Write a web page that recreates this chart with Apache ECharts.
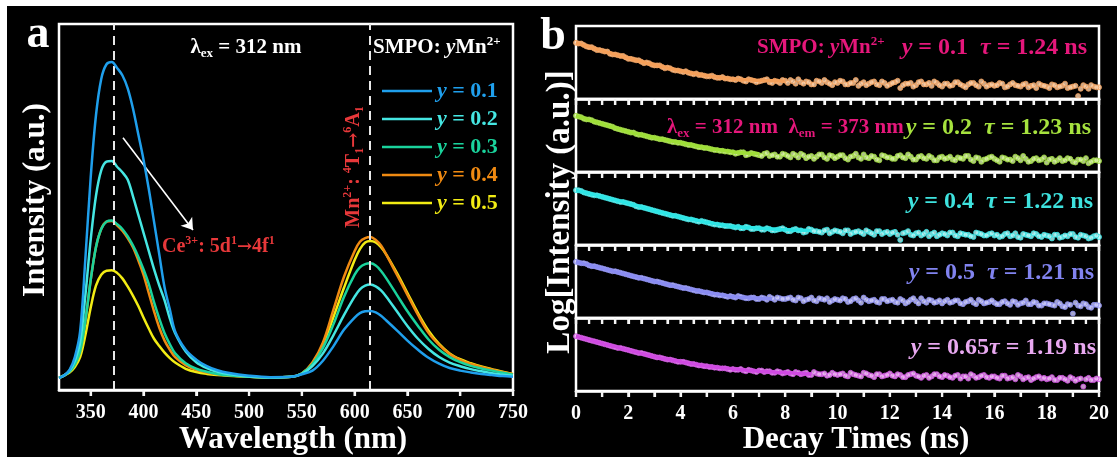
<!DOCTYPE html>
<html><head><meta charset="utf-8">
<script src="https://cdn.jsdelivr.net/npm/echarts@6/dist/echarts.min.js"></script>
<style>
html,body{margin:0;padding:0;background:#fff;width:1117px;height:461px;overflow:hidden}
#bg{position:absolute;left:7px;top:6px;width:1110px;height:451px;background:#000}
#chart{position:absolute;left:0;top:0;width:1117px;height:461px}
</style></head><body><div id="bg"></div><div id="chart"></div>
<script>
// ---------- Panel a : emission spectra ----------
const wavelength = [320,325,330,335,340,345,350,355,360,365,370,375,380,385,390,395,400,405,410,415,420,425,430,440,450,460,470,480,500,520,540,550,560,570,580,590,600,605,610,615,620,625,630,640,650,660,670,680,690,700,710,720,730,740,750];
const wlTicks = [350,400,450,500,550,600,650,700,750];
const seriesNames = ['y = 0.1','y = 0.2','y = 0.3','y = 0.4','y = 0.5'];
const spec01 = [3.3,4.0,5.5,9,16,36,58,75,85,89,89.6,88,86,82.5,77,70,63,55,46,37,28,22,16,11,8.3,6.5,5.4,4.7,3.9,3.5,3.6,4.3,5.3,8,12,16.5,19.8,21,21.5,21.6,21.2,20.3,19,16.3,13.5,11,8.8,7.2,6,5.3,4.8,4.4,4.1,3.8,3.6];
const spec02 = [3.3,4.0,5.3,8,13,26,41,53,60,62.4,62.6,61,59.5,57.5,53,48,43,38,33,28.5,24.5,19.5,15.5,10.5,7.6,6,5,4.4,3.7,3.4,3.6,4.4,6.5,10,15,20.5,25.5,27.5,28.5,28.8,28.3,27.2,25.5,21.5,17.5,14,11.2,9,7.5,6.5,5.7,5.1,4.6,4.2,3.9];
const spec03 = [3.3,4.0,5,7,10.5,19,30,39,44,46,46.3,45.3,44,42,39.5,36.5,33,29,24,19.5,15.5,12.5,10,7.3,5.8,5,4.4,4,3.6,3.4,3.6,4.5,7,11.5,18,25.5,31.5,33.5,34.4,34.6,34,32.5,30.5,26,21.5,17.5,13.8,11,9,7.6,6.6,5.9,5.3,4.7,4.2];
const spec04 = [3.3,4.0,5,7,10.5,19,30,39,44,46,46.2,45,43.5,41.5,39,35.5,31.5,26.5,21.5,17,13.5,11,9,6.8,5.5,4.8,4.3,4,3.6,3.4,3.6,4.5,7.5,13,22,31,38,40.5,41.5,41.8,41,39.5,37,31.5,26,20.5,15.6,12.3,9.8,8.2,7.1,6.3,5.6,4.9,4.3];
const spec05 = [3.3,4.0,4.8,6.3,9,15,22.5,28.5,31.5,32.6,32.7,32,30.5,28.3,25.8,23,19.8,16.8,14,12,10.2,8.7,7.5,5.8,4.9,4.4,4.1,3.9,3.6,3.4,3.6,4.5,7.2,12.5,20,28,35.5,38.5,40.3,40.7,40.3,39,37,32,26.5,21,16.2,12.6,10,8.4,7.3,6.4,5.7,5,4.4];
const specColors = ['#1f9fec','#45e6e2','#1ad39c','#f08a12','#f2ec14'];
const guideWl = [372, 614];

// ---------- Panel b : decay curves ----------
const decayTicksTop = [0,0.5,1,1.5,2,2.5,3,3.5,4,4.5,5,5.5,6,6.5,7,7.5,8,8.5,9,9.5,10,10.5,11,11.5,12,12.5,13,13.5,14,14.5,15,15.5,16,16.5,17,17.5,18,18.5,19,19.5,20];
const decayTicksBottom = [0,1,2,3,4,5,6,7,8,9,10,11,12,13,14,15,16,17,18,19,20];
const decayTime = [0,0.2,0.4,0.6,0.8,1,1.2,1.4,1.6,1.8,2,2.2,2.4,2.6,2.8,3,3.2,3.4,3.6,3.8,4,4.2,4.4,4.6,4.8,5,5.2,5.4,5.6,5.8,6,6.2,6.4,6.6,6.8,7,7.2,7.4,7.6,7.8,8,8.2,8.4,8.6,8.8,9,9.2,9.4,9.6,9.8,10,10.2,10.4,10.6,10.8,11,11.2,11.4,11.6,11.8,12,12.2,12.4,12.6,12.8,13,13.2,13.4,13.6,13.8,14,14.2,14.4,14.6,14.8,15,15.2,15.4,15.6,15.8,16,16.2,16.4,16.6,16.8,17,17.2,17.4,17.6,17.8,18,18.2,18.4,18.6,18.8,19,19.2,19.4,19.6,19.8,20];
const decayTimeB = [0.1,0.3,0.5,0.7,0.9,1.1,1.3,1.5,1.7,1.9,2.1,2.3,2.5,2.7,2.9,3.1,3.3,3.5,3.7,3.9,4.1,4.3,4.5,4.7,4.9,5.1,5.3,5.5,5.7,5.9,6.1,6.3,6.5,6.7,6.9,7.1,7.3,7.5,7.7,7.9,8.1,8.3,8.5,8.7,8.9,9.1,9.3,9.5,9.7,9.9,10.1,10.3,10.5,10.7,10.9,11.1,11.3,11.5,11.7,11.9,12.1,12.3,12.5,12.7,12.9,13.1,13.3,13.5,13.7,13.9,14.1,14.3,14.5,14.7,14.9,15.1,15.3,15.5,15.7,15.9,16.1,16.3,16.5,16.7,16.9,17.1,17.3,17.5,17.7,17.9,18.1,18.3,18.5,18.7,18.9,19.1,19.3,19.5,19.7,19.9];
const decay1 = [77,76,72,71,67,66,65,61,60,59, 55,54,53,49,49,46,46,42,42,39, 38,38,35,35,33,31,32,29,30,28, 27,28,25,27,25,24,26,23,25,22, 25,26,21,23,24,20,25,22,23,19, 22,24,20,22,18,23,21,24,19,22, 20,23,15,21,22,19,24,20,18,22, 17,21,19,23,18,20,22,17,21,19, 18,22,16,20,19,17,21,18,15,19, 17,20,16,18,15,17,4,19,14,17, 16];
const decay1B = [76,74,71,69,67,65,62,61,59,57, 55,53,51,50,47,46,44,43,40,39, 37,36,34,33,32,31,30,29,28,27, 26,27,24,26,23,25,27,22,24,26, 22,24,27,21,23,20,24,26,21,23, 25,20,22,26,21,19,23,20,24,18, 22,25,19,21,17,23,20,22,24,19, 21,18,23,20,16,22,19,24,17,20, 19,21,17,22,18,20,16,19,21,18, 15,19,17,21,16,18,14,17,19,16];
const decay2 = [77,75,72,71,68,66,64,62,59,57, 55,54,51,50,48,47,45,44,42,41, 40,38,37,35,34,33,31,30,29,28, 27,26,27,24,25,23,25,22,24,21, 24,20,23,25,19,22,21,24,18,22, 21,23,17,22,20,24,19,21,16,22, 20,18,23,19,21,17,22,18,20,16, 21,19,17,20,18,22,15,19,17,20, 18,14,19,17,21,16,18,15,19,17, 13,18,16,15,19,14,17,15,12,16, 15];
const decay2B = [76,73,72,69,67,65,63,60,58,56, 54,52,51,49,47,46,45,43,41,40, 39,37,36,34,33,32,30,29,28,27, 25,27,23,26,24,22,26,23,21,25, 22,25,20,23,21,18,24,20,23,19, 23,19,21,25,18,20,22,17,23,20, 18,22,20,24,17,21,19,22,16,20, 18,21,16,19,22,17,20,14,18,21, 16,20,17,15,19,22,14,18,16,20, 17,14,19,16,18,13,17,19,14,16];
const decay3 = [75,74,71,69,68,66,64,62,60,59, 57,55,52,51,49,47,45,43,41,40, 38,36,35,33,33,31,29,28,27,26, 25,25,23,24,22,23,21,22,20,22, 21,19,22,20,18,21,19,17,21,18, 19,16,20,17,19,15,18,14,19,17, 15,18,7,17,14,16,13,18,15,12, 16,13,17,12,15,14,11,16,13,15, 13,11,15,12,16,10,14,12,15,11, 13,9,14,11,12,15,10,13,9,12, 11];
const decay3B = [75,72,70,68,67,65,63,61,59,58, 56,53,52,50,48,46,44,42,40,39, 37,35,34,32,32,30,28,27,26,26, 24,23,25,22,23,21,23,20,21,23, 19,21,20,17,22,19,18,20,16,20, 18,20,15,18,17,20,16,19,15,18, 17,14,16,19,13,17,15,12,17,14, 15,17,13,16,14,12,17,15,13,16, 14,12,16,13,11,15,13,16,12,14, 12,14,10,13,15,11,14,12,10,13];
const decay4 = [77,75,74,71,70,68,66,64,63,61, 59,57,55,54,52,50,49,47,45,44, 42,41,39,37,36,35,33,32,31,29, 29,30,28,27,28,26,27,29,25,27, 26,28,24,27,25,28,23,26,27,24, 25,27,22,26,24,28,23,25,21,26, 24,22,26,20,25,23,27,21,24,22, 20,25,22,24,19,23,21,25,20,22, 21,19,23,18,22,20,24,19,21,17, 20,18,22,16,19,6,17,20,15,18, 17];
const decay4B = [76,75,72,71,69,67,65,64,62,60, 58,56,55,53,51,50,48,46,45,43, 41,40,38,37,35,34,32,31,30,30, 28,29,27,28,26,28,25,27,28,26, 27,25,28,23,26,24,27,25,22,26, 24,26,23,27,21,25,24,22,26,23, 25,21,24,22,27,20,23,25,21,24, 23,21,24,20,22,25,19,23,21,24, 19,22,20,23,18,21,19,22,17,20, 19,17,20,15,18,21,16,19,14,18];
const decay5 = [75,73,71,69,67,65,63,61,59,58, 56,54,52,51,49,47,46,44,43,41, 40,39,37,36,35,34,33,32,31,30, 30,29,28,29,27,28,26,27,25,26, 25,24,26,23,25,22,24,23,21,25, 22,24,20,23,21,25,22,19,23,21, 24,20,22,19,23,21,18,22,20,23, 19,21,18,22,20,17,21,19,22,18, 20,17,21,18,16,20,18,15,19,17, 16,19,15,18,14,17,16,6,18,15, 16];
const decay5B = [74,72,70,68,66,64,62,60,59,57, 55,53,52,50,48,46,45,43,42,40, 40,38,37,35,34,33,32,31,31,29, 29,30,27,28,26,28,27,25,27,24, 26,23,25,24,22,26,23,24,22,23, 23,21,25,22,20,24,21,23,20,22, 21,23,19,22,24,20,21,18,23,20, 22,19,21,17,20,23,18,21,19,20, 18,21,17,19,22,16,19,17,20,18, 17,15,18,16,19,14,17,16,15,17];
const fitTime = [0,0.5,1,1.5,2,2.5,3,3.5,4,4.5,5,5.5,6,6.5,7,7.5,8,8.5,9];
const fit1 = [77,71.5,66,61,56,51,46.5,42.5,38.5,35,32,29.5,27.5,26.3,25.5,25,24.5];
const fit2 = [77,71.5,66,60.5,55,51,47,43.5,40,36.5,33,30,27.5,26,25];
const fit3 = [75,70.5,66,61.5,57,52,47,42.5,38,34.5,31,28,25,24,23,22,21,20.5,20];
const fit4 = [77,72.5,68,63.5,59,54.5,50,46,42,38.5,35,32,29,28,27,26.5];
const fit5 = [75,70,65,60.5,56,51.5,47,43.5,40,37,34,32,30,28.5,27,26,25,24,23];
const decayLabels = ['y = 0.1  τ = 1.24 ns','y = 0.2  τ = 1.23 ns','y = 0.4  τ = 1.22 ns','y = 0.5  τ = 1.21 ns','y = 0.65τ = 1.19 ns'];
const decayLine = ['#f5a05a','#9fdf38','#2ee6e6','#8a8cf2','#d04ae2'];
const decayFill = ['#ffd3ad','#daf5a8','#b8fafa','#cfd0ff','#f3bdf8'];
const decayText = ['#e5177b','#a6e23e','#3ee2de','#8183ef','#e8a8f0'];

const FF = '"Liberation Serif", "Times New Roman", serif';
const FA = '"DejaVu Serif", serif';
function rich(size, color) {
  const s = Math.round(size * 0.62);
  return {
    n: {font: `bold ${size}px ${FF}`, fill: color, lineHeight: size + 4, verticalAlign: 'middle'},
    i: {font: `italic bold ${size}px ${FF}`, fill: color, lineHeight: size + 4, verticalAlign: 'middle'},
    a: {font: `bold ${Math.round(size * 0.9)}px ${FA}`, fill: color, lineHeight: size + 4, verticalAlign: 'middle'},
    s: {font: `bold ${s}px ${FF}`, fill: color, lineHeight: s, verticalAlign: 'top'},
    b: {font: `bold ${s}px ${FF}`, fill: color, lineHeight: s, verticalAlign: 'bottom'}
  };
}
function txt(x, y, text, size, color, align, rotation) {
  return {type: 'text', x: x, y: y, rotation: rotation || 0, silent: true,
    style: {text: text, align: align || 'left', verticalAlign: 'middle', rich: rich(size, color), font: `bold ${size}px ${FF}`, fill: color}};
}
function fmtY(s) { return '{i|y}{n|' + s.slice(1).replace('τ', '}{i|τ}{n|') + '}'; }
// tick marks placed through each axis scale (value -> pixel via api.coord)
function tickSeries(axisIdx, values, len) {
  return {type: 'custom', xAxisIndex: axisIdx, yAxisIndex: axisIdx, clip: false, silent: true, z: 30,
    data: values.map(v => [v, 0]),
    renderItem: (params, api) => {
      const p = api.coord([api.value(0), 0]);
      return {type: 'line', shape: {x1: p[0], y1: p[1], x2: p[0], y2: p[1] + len},
        style: {stroke: '#f4f4f4', lineWidth: 2.2}};
    }};
}

const chart = echarts.init(document.getElementById('chart'));
const grids = [{left: 59, top: 24, width: 454, height: 366, show: true, borderColor: '#fff', borderWidth: 2.5}];
const xAxes = [{gridIndex: 0, type: 'value', min: 320, max: 750, z: 10,
  axisLine: {show: true, lineStyle: {color: '#fff', width: 2.5}}, splitLine: {show: false},
  axisTick: {show: true, customValues: wlTicks, length: 6, lineStyle: {color: '#fff', width: 2.2}},
  axisLabel: {customValues: wlTicks, color: '#fff', fontFamily: FF, fontWeight: 'bold', fontSize: 20, margin: 13}}];
const yAxes = [{gridIndex: 0, type: 'value', min: 0, max: 100, show: false}];
for (let k = 0; k < 5; k++) {
  grids.push({left: 576, top: 26 + 73 * k, width: 523, height: 73, show: true, borderColor: '#fff', borderWidth: 2.5});
  const last = k === 4;
  xAxes.push({gridIndex: k + 1, type: 'value', min: 0, max: 20, interval: 2, z: 10,
    axisLine: {show: true, lineStyle: {color: '#fff', width: 2.5}}, splitLine: {show: false},
    axisTick: {show: true, length: 6, lineStyle: {color: '#fff', width: 2.2}},
    minorTick: {show: true, splitNumber: last ? 2 : 4, length: 6, lineStyle: {color: '#fff', width: 2.2}},
    axisLabel: {show: last, color: '#fff', fontFamily: FF, fontWeight: 'bold', fontSize: 20, margin: 13}});
  yAxes.push({gridIndex: k + 1, type: 'value', min: 0, max: 100, show: false});
}

const specs = [spec01, spec02, spec03, spec04, spec05];
const series = specs.map((arr, i) => ({
  name: seriesNames[i], type: 'line', xAxisIndex: 0, yAxisIndex: 0,
  data: wavelength.map((w, j) => [w, arr[j]]), smooth: 0.35, symbol: 'none',
  lineStyle: {color: specColors[i], width: 2.5}, itemStyle: {color: specColors[i]}, z: 5 - i
}));
series[0].markLine = {silent: true, animation: false, label: {show: false}, symbol: ['none', 'none'],
  data: [
    {xAxis: guideWl[0], lineStyle: {color: '#e8e8e8', width: 2, type: [9, 6]}},
    {xAxis: guideWl[1], lineStyle: {color: '#e8e8e8', width: 2, type: [9, 6]}},
    [{coord: [380.6, 68.9], symbol: 'none'}, {coord: [446.9, 43.7], symbol: 'arrow', symbolSize: 11, lineStyle: {color: '#fff', width: 1.6, type: 'solid'}}]
  ]};
series.push(tickSeries(0, wlTicks, 6));

const decays = [decay1, decay2, decay3, decay4, decay5];
const decaysB = [decay1B, decay2B, decay3B, decay4B, decay5B];
const fits = [fit1, fit2, fit3, fit4, fit5];
for (let k = 0; k < 5; k++) {
  const pts = decayTime.map((t, j) => [t, decays[k][j]]).concat(decayTimeB.map((t, j) => [t, decaysB[k][j]]));
  series.push({type: 'scatter', xAxisIndex: k + 1, yAxisIndex: k + 1, symbol: 'circle', symbolSize: 5,
    data: pts, itemStyle: {color: decayFill[k], borderColor: decayLine[k], borderWidth: 1}, z: 3});
  series.push({type: 'line', xAxisIndex: k + 1, yAxisIndex: k + 1, symbol: 'none', smooth: 0.3,
    data: fits[k].map((v, j) => [fitTime[j], v]),
    lineStyle: {color: decayLine[k], width: 3.5}, z: 4});
  series.push(tickSeries(k + 1, k === 4 ? decayTicksBottom : decayTicksTop, 6));
}

const graphics = [
  txt(38, 35, '{n|a}', 46, '#fff', 'center'),
  txt(553, 37, '{n|b}', 46, '#fff', 'center'),
  txt(246, 48, '{n|λ}{b|ex}{n| = 312 nm}', 21, '#fff', 'center'),
  txt(373, 48, '{n|SMPO: }{i|y}{n|Mn}{s|2+}', 21, '#fff', 'left'),
  txt(354, 167, '{n|Mn}{s|2+}{n|: }{s|4}{n|T}{b|1}{a|→}{s|6}{n|A}{b|1}', 20, '#e8383a', 'center', Math.PI / 2),
  txt(162, 247, '{n|Ce}{s|3+}{n|: 5d}{s|1}{a|→}{n|4f}{s|1}', 20, '#e8383a', 'left'),
  txt(36, 200, '{n|Intensity (a.u.)}', 31, '#fff', 'center', Math.PI / 2),
  txt(293, 440, '{n|Wavelength (nm)}', 31, '#fff', 'center'),
  txt(560, 212, '{n|Log[Intensity (a.u.)]}', 33, '#fff', 'center', Math.PI / 2),
  txt(856, 440, '{n|Decay Times (ns)}', 31, '#fff', 'center'),
  txt(757, 48, '{n|SMPO: }{i|y}{n|Mn}{s|2+}', 21, decayText[0], 'left'),
  txt(667, 128, '{n|λ}{b|ex}{n| = 312 nm  λ}{b|em}{n| = 373 nm}', 21, decayText[0], 'left')
];
const rightX = [1087, 1091, 1093, 1094, 1096];
const rowY = [48, 128, 202, 273, 348];
for (let k = 0; k < 5; k++) {
  graphics.push(txt(rightX[k], rowY[k], fmtY(decayLabels[k]), 24, decayText[k], 'right'));
}

chart.setOption({
  animation: false,
  grid: grids, xAxis: xAxes, yAxis: yAxes, series: series,
  legend: {orient: 'vertical', left: 377, top: 75, itemWidth: 50, itemHeight: 2.5, itemGap: 6, icon: 'rect',
    selectedMode: false,
    data: seriesNames.map((n, i) => ({name: n, textStyle: {color: specColors[i]}})),
    formatter: n => '{i|y}' + n.slice(1),
    textStyle: {fontFamily: FF, fontWeight: 'bold', fontSize: 22, lineHeight: 22,
      rich: {i: {fontFamily: FF, fontWeight: 'bold', fontStyle: 'italic', fontSize: 22}}}},
  graphic: graphics
});
</script></body></html>
